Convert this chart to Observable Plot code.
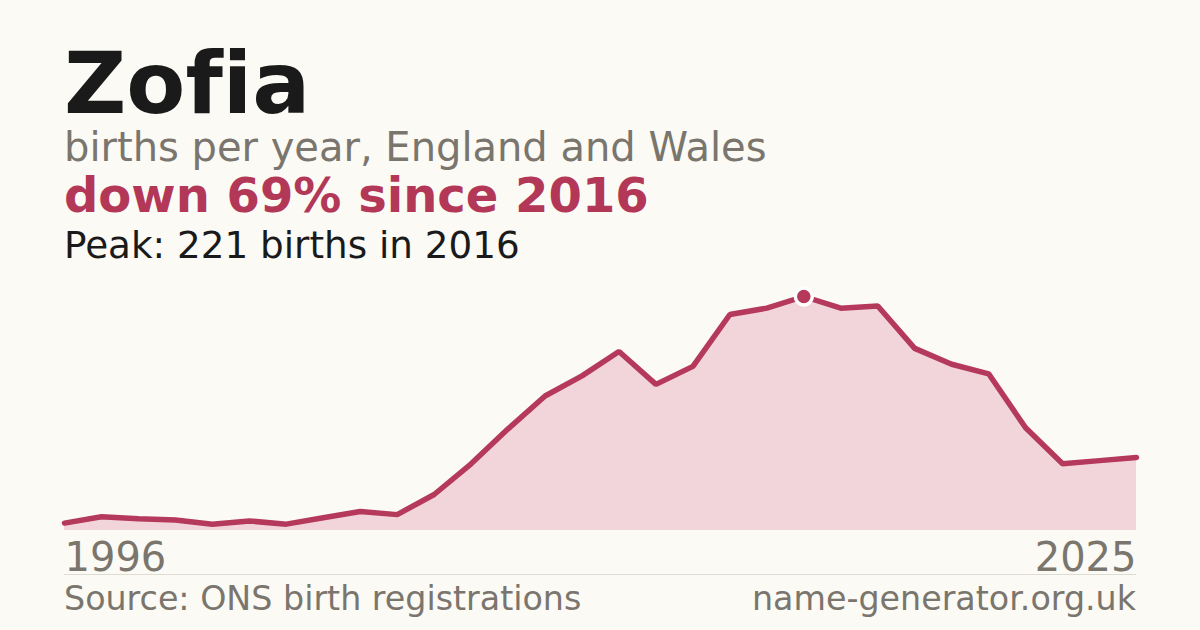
<!DOCTYPE html>
<html>
<head>
<meta charset="utf-8">
<script src="https://cdn.jsdelivr.net/npm/d3@7"></script>
<script src="https://cdn.jsdelivr.net/npm/@observablehq/plot@0.6"></script>
<style>
  html, body { margin: 0; padding: 0; background: #fbfaf5; }
  body { width: 1200px; height: 630px; overflow: hidden; position: relative; font-family: "DejaVu Sans", sans-serif; font-variant-ligatures: none; }
  .t { position: absolute; left: 64px; white-space: nowrap; line-height: 0.85; }
  #title { top: 46.7px; font-size: 86px; font-weight: bold; color: #1a1a1a; }
  #sub { top: 129.5px; font-size: 40px; color: #7a756d; }
  #down { top: 174.8px; font-size: 48px; font-weight: bold; color: #b33858; }
  #peak { top: 229.6px; font-size: 37.3px; color: #1a1a1a; }
  #chart { position: absolute; left: 0; top: 270px; }
  #rule { position: absolute; left: 64px; width: 1072px; top: 574px; height: 1px; background: #dedbd3; }
  #src { top: 585.3px; font-size: 33.3px; color: #7a756d; }
  #site { top: 585.3px; left: auto; right: 64px; font-size: 33.3px; color: #7a756d; }
</style>
</head>
<body>
<div class="t" id="title">Zofia</div>
<div class="t" id="sub">births per year, England and Wales</div>
<div class="t" id="down">down 69% since 2016</div>
<div class="t" id="peak">Peak: 221 births in 2016</div>
<div id="chart"></div>
<div id="rule"></div>
<div class="t" id="src">Source: ONS birth registrations</div>
<div class="t" id="site">name-generator.org.uk</div>
<script>
const years = [1996,1997,1998,1999,2000,2001,2002,2003,2004,2005,2006,2007,2008,2009,2010,2011,2012,2013,2014,2015,2016,2017,2018,2019,2020,2021,2022,2023,2024,2025];
const births = [7,13,11,10,6,9,6,12,18,15,34,63,96,127,146,169,138,155,204,210,221,210,212,172,157,148,97,63,66,69];
const endLabels = [1996, 2025];
const peakYear = 2016;
const peakBirths = 221;

const data = years.map((y, i) => ({year: y, births: births[i]}));
const peak = [{year: peakYear, births: peakBirths}];

const chart = Plot.plot({
  width: 1200,
  height: 304,
  marginLeft: 64,
  marginRight: 64,
  marginTop: 26,
  marginBottom: 44,
  style: {background: "transparent", fontFamily: "DejaVu Sans, sans-serif", overflow: "visible"},
  x: {domain: [1996, 2025], axis: null},
  y: {domain: [0, 221], axis: null},
  marks: [
    Plot.areaY(data, {x: "year", y: "births", fill: "#f2d5da"}),
    Plot.lineY(data, {x: "year", y: "births", stroke: "#b5395a", strokeWidth: 5.5, strokeLinejoin: "miter"}),
    Plot.dot(peak, {x: "year", y: "births", r: 8.5, fill: "#b5395a", stroke: "#ffffff", strokeWidth: 3.5}),
    Plot.text([endLabels[0]], {x: d => d, y: 0, text: d => String(d), textAnchor: "start", lineAnchor: "bottom", dy: 40, fontSize: 40, fill: "#7a756d"}),
    Plot.text([endLabels[1]], {x: d => d, y: 0, text: d => String(d), textAnchor: "end", lineAnchor: "bottom", dy: 40, fontSize: 40, fill: "#7a756d"})
  ]
});
document.getElementById("chart").appendChild(chart);
</script>
</body>
</html>
